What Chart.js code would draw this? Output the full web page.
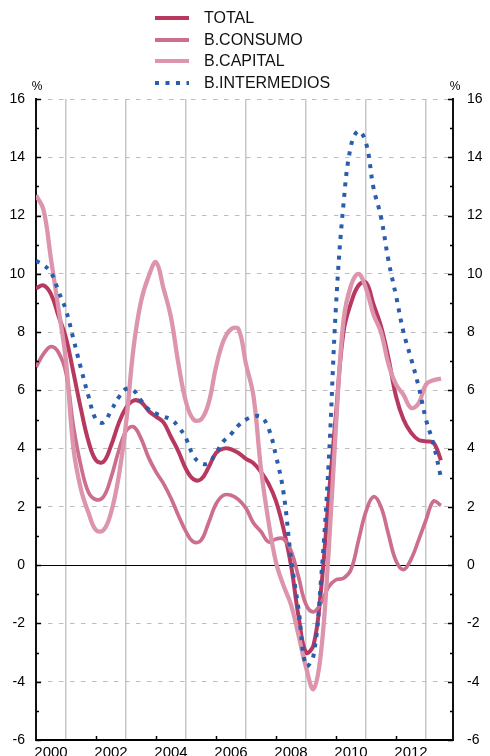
<!DOCTYPE html>
<html>
<head>
<meta charset="utf-8">
<script src="https://cdn.jsdelivr.net/npm/chart.js@4.4.1/dist/chart.umd.min.js"></script>
<style>
  html, body { margin: 0; padding: 0; background: #fff; overflow: hidden; }
  #wrap { position: relative; width: 490px; height: 756px; overflow: hidden; }
  #chart { position: absolute; left: 0; top: 0; }
  #legend { position: absolute; left: 155px; top: 7.5px; font: 16px 'Liberation Sans', Arial, sans-serif; color: #111; }
  .legend-row { display: flex; align-items: center; height: 21.5px; white-space: nowrap; }
  .legend-row svg { margin-right: 15px; flex: none; }
</style>
</head>
<body>
<div id="wrap">
  <canvas id="chart" width="490" height="775"></canvas>
  <div id="legend"></div>
</div>
<script>
'use strict';

// quarterly points, Jan 2000 .. mid 2013 (x in decimal years)
const quarters = Array.from({ length: 55 }, (_, i) => 2000 + i / 4);

const total = [
  9.5, 9.6, 9.3, 8.55, 7.8, 6.6, 5.35, 4.25, 3.6, 3.55,
  4.1, 4.85, 5.4, 5.65, 5.6, 5.3, 5.1, 4.9, 4.4, 3.9,
  3.3, 2.95, 2.95, 3.35, 3.85, 4.0, 3.98, 3.85, 3.65, 3.5,
  3.2, 2.8, 2.2, 1.25, 0.0, -1.75, -3.0, -2.75, -0.85, 2.25,
  5.2, 8.0, 9.0, 9.6, 9.7, 8.95, 8.2, 7.1, 5.8, 5.0,
  4.55, 4.3, 4.25, 4.2, 3.6,
];
const consumo = [
  6.8, 7.25, 7.5, 7.3, 6.6, 4.75, 3.4, 2.5, 2.25, 2.35,
  3.0, 3.9, 4.6, 4.75, 4.35, 3.7, 3.2, 2.8, 2.3, 1.7,
  1.15, 0.8, 0.85, 1.45, 2.1, 2.4, 2.4, 2.25, 1.95, 1.45,
  1.15, 0.8, 0.9, 0.9, 0.5, -0.4, -1.35, -1.6, -1.3, -0.75,
  -0.5, -0.45, -0.15, 0.85, 1.85, 2.35, 2.0, 1.05, 0.15, -0.15,
  0.2, 0.85, 1.55, 2.2, 2.05,
];
const capital = [
  12.7, 12.2, 10.5, 8.8, 7.0, 4.0, 2.6, 1.8, 1.2, 1.2,
  1.8, 3.0, 4.85, 7.45, 9.05, 9.9, 10.4, 9.5, 8.5, 6.9,
  5.6, 5.0, 5.0, 5.55, 6.8, 7.7, 8.1, 8.1, 6.9, 5.8,
  3.3, 1.5, 0.1, -0.7, -1.35, -2.4, -3.5, -4.25, -3.0, 0.4,
  4.8, 8.4, 9.6, 10.0, 9.5, 8.6, 8.0, 6.9, 6.2, 5.85,
  5.4, 5.55, 6.2, 6.35, 6.4,
];
const intermedios = [
  10.45, 10.3, 10.05, 9.4, 8.75, 7.75, 6.75, 5.8, 5.0, 4.9,
  5.3, 5.75, 6.05, 6.0, 5.65, 5.35, 5.2, 5.1, 5.0, 4.75,
  4.35, 3.75, 3.5, 3.5, 3.85, 4.25, 4.5, 4.8, 5.0, 5.1,
  5.1, 4.7, 3.75, 2.5, 0.25, -1.5, -3.45, -3.1, -0.5, 3.4,
  8.9, 12.4, 14.4, 14.9, 14.5, 12.95, 11.95, 10.45, 9.25, 8.0,
  7.1, 6.15, 5.0, 4.15, 3.0,
];

const labelYears = [2000, 2002, 2004, 2006, 2008, 2010, 2012];
const gridYears  = [2001, 2003, 2005, 2007, 2009, 2011, 2013];
const yTicks     = [-6, -4, -2, 0, 2, 4, 6, 8, 10, 12, 14, 16];

const SERIES = [
  { label: 'TOTAL',         values: total,       color: '#b8395f', width: 4,   dash: [],       order: 3 },
  { label: 'B.CONSUMO',     values: consumo,     color: '#cc6e8d', width: 3.7, dash: [],       order: 2 },
  { label: 'B.CAPITAL',     values: capital,     color: '#dc95ac', width: 4.3, dash: [],       order: 1 },
  { label: 'B.INTERMEDIOS', values: intermedios, color: '#2a5dac', width: 4,   dash: [4, 6.5], order: 0 },
];

Chart.defaults.font.family = "'Liberation Sans', Arial, Helvetica, sans-serif";
Chart.defaults.color = '#000';

const axisDecor = {
  id: 'axisDecor',
  beforeDatasetsDraw(chart) {
    const { ctx, chartArea: a, scales: { y } } = chart;
    const y0 = Math.round(y.getPixelForValue(0)) + 0.5;
    ctx.save();
    ctx.strokeStyle = '#000';
    ctx.lineWidth = 1.2;
    ctx.beginPath();
    ctx.moveTo(a.left, y0);
    ctx.lineTo(a.right, y0);
    ctx.stroke();
    ctx.restore();
  },
  afterDraw(chart) {
    const { ctx, chartArea: a, scales: { x, y } } = chart;
    ctx.save();
    ctx.strokeStyle = '#000';
    ctx.lineWidth = 1.5;
    ctx.beginPath();
    for (let v = y.min; v <= y.max; v++) {
      const py = Math.round(y.getPixelForValue(v)) + 0.5;
      const len = v % 2 === 0 ? 5 : 3;
      ctx.moveTo(a.left, py);  ctx.lineTo(a.left + len, py);
      ctx.moveTo(a.right, py); ctx.lineTo(a.right - len, py);
    }
    labelYears.forEach(yr => {
      const px = Math.round(x.getPixelForValue(yr)) + 0.5;
      if (px <= a.left + 1) return;
      ctx.moveTo(px, a.bottom); ctx.lineTo(px, a.bottom - 4);
    });
    ctx.stroke();

    ctx.fillStyle = '#000';
    ctx.font = "12px 'Liberation Sans', Arial, sans-serif";
    ctx.textAlign = 'center';
    ctx.textBaseline = 'bottom';
    ctx.fillText('%', a.left + 1, a.top - 6);
    ctx.fillText('%', a.right + 2, a.top - 6);
    ctx.restore();
  },
};

new Chart(document.getElementById('chart'), {
  type: 'line',
  data: {
    datasets: SERIES.map(s => ({
      label: s.label,
      data: s.values.map((v, i) => ({ x: quarters[i], y: v })),
      borderColor: s.color,
      borderWidth: s.width,
      borderDash: s.dash,
      borderCapStyle: 'butt',
      borderJoinStyle: 'round',
      pointRadius: 0,
      tension: 0.4,
      fill: false,
      order: s.order,
    })),
  },
  options: {
    responsive: false,
    animation: false,
    layout: { padding: { top: 99, left: 0, right: 0, bottom: 0 } },
    plugins: { legend: { display: false }, tooltip: { enabled: false } },
    scales: {
      x: {
        type: 'linear',
        min: 2000,
        max: 2013.9,
        afterBuildTicks: s => {
          s.ticks = [...gridYears, ...labelYears.map(yr => yr + 0.5)]
            .sort((a, b) => a - b)
            .map(v => ({ value: v }));
        },
        afterFit: s => { s.height = 35; },
        grid: {
          drawTicks: false,
          lineWidth: 1.5,
          color: c => (c.tick && gridYears.includes(c.tick.value)) ? '#c8c8c8' : 'rgba(0,0,0,0)',
        },
        border: { color: '#000', width: 2 },
        ticks: {
          autoSkip: false,
          maxRotation: 0,
          padding: 4,
          font: { size: 15 },
          color: '#000',
          callback: v => labelYears.includes(v - 0.5) ? String(v - 0.5) : '',
        },
      },
      y: {
        position: 'left',
        min: -6,
        max: 16,
        afterBuildTicks: s => { s.ticks = yTicks.map(v => ({ value: v })); },
        afterFit: s => { s.width = 36; },
        grid: {
          drawTicks: false,
          lineWidth: 1,
          color: c => (c.tick && (c.tick.value === 0 || c.tick.value === -6)) ? 'rgba(0,0,0,0)' : '#bdbdbd',
        },
        border: { color: '#111', width: 2, dash: [4.5, 6.5] },
        ticks: { padding: 11, font: { size: 14 }, color: '#000' },
      },
      y2: {
        position: 'right',
        min: -6,
        max: 16,
        afterBuildTicks: s => { s.ticks = yTicks.map(v => ({ value: v })); },
        afterFit: s => { s.width = 37; },
        grid: { display: false, drawTicks: false },
        border: { color: '#111', width: 2 },
        ticks: { padding: 14, font: { size: 14 }, color: '#000' },
      },
    },
  },
  plugins: [axisDecor],
});

document.getElementById('legend').innerHTML = SERIES.map(s => {
  const dash = s.dash.length ? `stroke-dasharray="${s.dash.join(' ')}"` : '';
  return `<div class="legend-row">
    <svg width="34" height="6"><line x1="0" y1="3" x2="34" y2="3" stroke="${s.color}" stroke-width="4" ${dash}/></svg>
    <span>${s.label}</span>
  </div>`;
}).join('');
</script>
</body>
</html>
